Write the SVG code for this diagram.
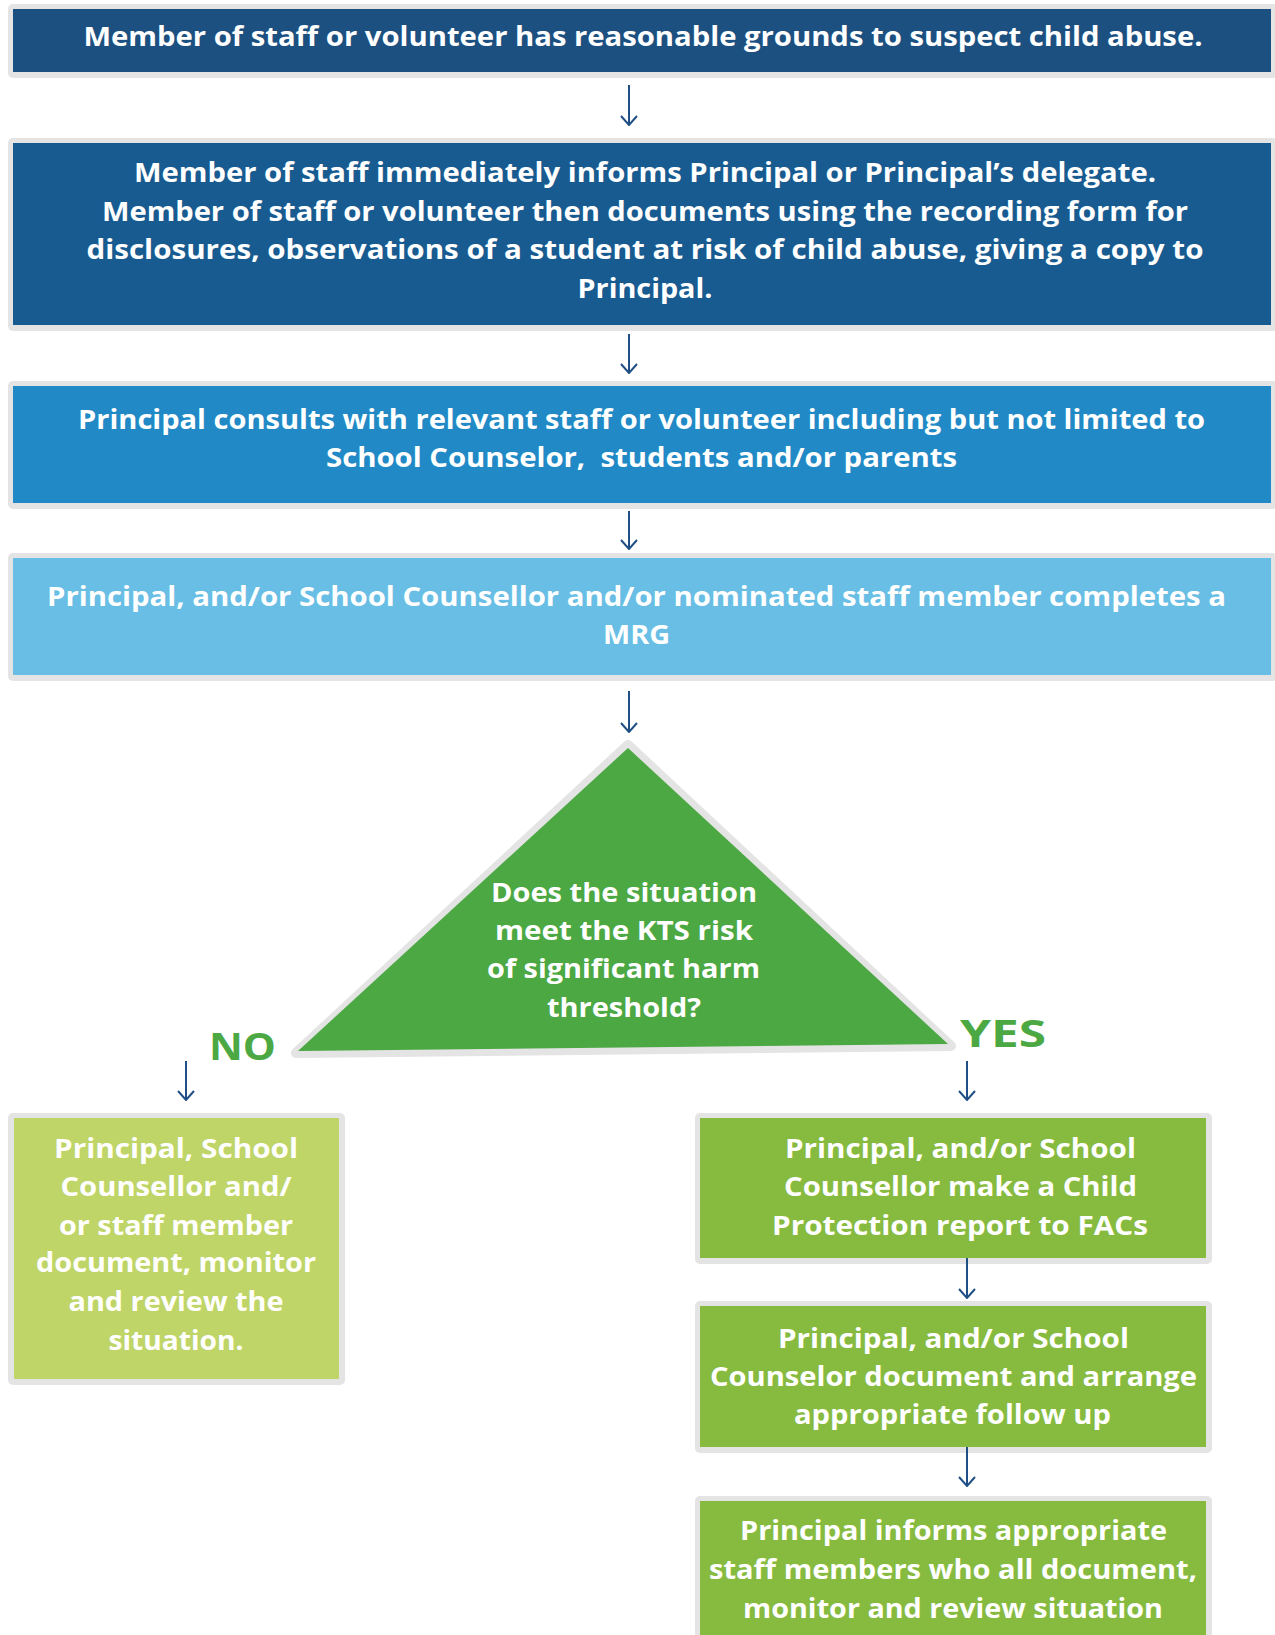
<svg xmlns="http://www.w3.org/2000/svg" width="1275" height="1635" viewBox="0 0 1275 1635">
  <defs>
    <style>
      .frame { fill: #e4e4e4; }
      .t { font-family: "Open Sans", "Liberation Sans", sans-serif; font-weight: 700; font-size: 26px; fill: #ffffff; text-anchor: middle; }
      .tri { font-family: "Open Sans", "Liberation Sans", sans-serif; font-weight: 700; font-size: 27px; fill: #ffffff; text-anchor: middle; }
      .lbl { font-family: "Open Sans", "Liberation Sans", sans-serif; font-weight: 700; font-size: 38px; fill: #4ba843; }
      .conn { stroke: #1f4f84; stroke-width: 2; fill: none; marker-end: url(#head); }
    </style>
    <marker id="head" viewBox="0 0 12 20" refX="11" refY="10" markerWidth="12" markerHeight="20" markerUnits="userSpaceOnUse" orient="auto">
      <path d="M2,2 L11,10 L2,18" fill="none" stroke="#1f4f84" stroke-width="2"/>
    </marker>
  </defs>

  <rect width="1275" height="1635" fill="#ffffff"/>

  <!-- step 1 -->
  <g id="suspect">
    <rect class="frame" x="8" y="4" width="1270" height="74" rx="5"/>
    <rect x="13" y="9" width="1258" height="63" fill="#1c5081"/>
    <text class="t" x="643" y="46" textLength="1119" lengthAdjust="spacingAndGlyphs">Member of staff or volunteer has reasonable grounds to suspect child abuse.</text>
  </g>

  <!-- step 2 -->
  <g id="inform">
    <rect class="frame" x="8" y="138" width="1270" height="193" rx="5"/>
    <rect x="13" y="143" width="1258" height="182" fill="#185b91"/>
    <text class="t" x="645" y="182" textLength="1022" lengthAdjust="spacingAndGlyphs">Member of staff immediately informs Principal or Principal’s delegate.</text>
    <text class="t" x="645" y="221" textLength="1086" lengthAdjust="spacingAndGlyphs">Member of staff or volunteer then documents using the recording form for</text>
    <text class="t" x="645" y="259" textLength="1117" lengthAdjust="spacingAndGlyphs">disclosures, observations of a student at risk of child abuse, giving a copy to</text>
    <text class="t" x="645" y="298" textLength="135" lengthAdjust="spacingAndGlyphs">Principal.</text>
  </g>

  <!-- step 3 -->
  <g id="consult">
    <rect class="frame" x="8" y="381" width="1270" height="128" rx="5"/>
    <rect x="13" y="386" width="1258" height="117" fill="#218ac6"/>
    <text class="t" x="641.5" y="429" textLength="1127" lengthAdjust="spacingAndGlyphs">Principal consults with relevant staff or volunteer including but not limited to</text>
    <text class="t" x="641.5" y="467" textLength="631" lengthAdjust="spacingAndGlyphs" xml:space="preserve">School Counselor,  students and/or parents</text>
  </g>

  <!-- step 4 -->
  <g id="mrg">
    <rect class="frame" x="8" y="553" width="1270" height="128" rx="5"/>
    <rect x="13" y="558" width="1258" height="117" fill="#68bee4"/>
    <text class="t" x="636.5" y="606" textLength="1179" lengthAdjust="spacingAndGlyphs">Principal, and/or School Counsellor and/or nominated staff member completes a</text>
    <text class="t" x="636.5" y="644" textLength="67" lengthAdjust="spacingAndGlyphs">MRG</text>
  </g>

  <!-- decision -->
  <g id="decision">
    <polygon points="628,745 296,1053 951,1046" fill="#e4e4e4" stroke="#e4e4e4" stroke-width="10" stroke-linejoin="round"/>
    <polygon points="628,748 298,1051 948,1044" fill="#4ba843"/>
    <text class="tri" x="624" y="902" textLength="266" lengthAdjust="spacingAndGlyphs">Does the situation</text>
    <text class="tri" x="624" y="940" textLength="258" lengthAdjust="spacingAndGlyphs">meet the KTS risk</text>
    <text class="tri" x="623.5" y="978" textLength="273" lengthAdjust="spacingAndGlyphs">of significant harm</text>
    <text class="tri" x="624" y="1017" textLength="154" lengthAdjust="spacingAndGlyphs">threshold?</text>
  </g>

  <!-- branch labels -->
  <g id="labels">
    <text class="lbl" x="209" y="1060" textLength="67" lengthAdjust="spacingAndGlyphs">NO</text>
    <text class="lbl" x="960" y="1047" textLength="86" lengthAdjust="spacingAndGlyphs">YES</text>
  </g>

  <!-- no branch -->
  <g id="monitor">
    <rect class="frame" x="8" y="1113" width="337" height="272" rx="5"/>
    <rect x="14" y="1118" width="325" height="261" fill="#bfd567"/>
    <text class="t" x="176" y="1158" textLength="244" lengthAdjust="spacingAndGlyphs">Principal, School</text>
    <text class="t" x="176" y="1196" textLength="231" lengthAdjust="spacingAndGlyphs">Counsellor and/</text>
    <text class="t" x="176" y="1235" textLength="234" lengthAdjust="spacingAndGlyphs">or staff member</text>
    <text class="t" x="176" y="1272" textLength="280" lengthAdjust="spacingAndGlyphs">document, monitor</text>
    <text class="t" x="176" y="1311" textLength="215" lengthAdjust="spacingAndGlyphs">and review the</text>
    <text class="t" x="176" y="1350" textLength="135" lengthAdjust="spacingAndGlyphs">situation.</text>
  </g>

  <!-- yes branch -->
  <g id="report">
    <rect class="frame" x="695" y="1113" width="517" height="151" rx="5"/>
    <rect x="700" y="1118" width="506" height="140" fill="#87bb40"/>
    <text class="t" x="960.5" y="1158" textLength="351" lengthAdjust="spacingAndGlyphs">Principal, and/or School</text>
    <text class="t" x="960.5" y="1196" textLength="353" lengthAdjust="spacingAndGlyphs">Counsellor make a Child</text>
    <text class="t" x="960" y="1235" textLength="376" lengthAdjust="spacingAndGlyphs">Protection report to FACs</text>
  </g>

  <g id="follow-up">
    <rect class="frame" x="695" y="1301" width="517" height="152" rx="5"/>
    <rect x="700" y="1306" width="506" height="141" fill="#87bb40"/>
    <text class="t" x="953.5" y="1348" textLength="351" lengthAdjust="spacingAndGlyphs">Principal, and/or School</text>
    <text class="t" x="953.5" y="1386" textLength="487" lengthAdjust="spacingAndGlyphs">Counselor document and arrange</text>
    <text class="t" x="952.5" y="1424" textLength="317" lengthAdjust="spacingAndGlyphs">appropriate follow up</text>
  </g>

  <g id="inform-staff">
    <rect class="frame" x="695" y="1496" width="517" height="150" rx="5"/>
    <rect x="700" y="1501" width="506" height="140" fill="#87bb40"/>
    <text class="t" x="953.5" y="1540" textLength="427" lengthAdjust="spacingAndGlyphs">Principal informs appropriate</text>
    <text class="t" x="953" y="1579" textLength="488" lengthAdjust="spacingAndGlyphs">staff members who all document,</text>
    <text class="t" x="953" y="1618" textLength="420" lengthAdjust="spacingAndGlyphs">monitor and review situation</text>
  </g>

  <!-- connectors, drawn over the box frames -->
  <g id="connectors">
    <line class="conn" x1="629" y1="85" x2="629" y2="125"/>
    <line class="conn" x1="629" y1="334" x2="629" y2="373"/>
    <line class="conn" x1="629" y1="511" x2="629" y2="549"/>
    <line class="conn" x1="629" y1="691" x2="629" y2="732"/>
    <line class="conn" x1="186" y1="1061" x2="186" y2="1100"/>
    <line class="conn" x1="967" y1="1061" x2="967" y2="1100"/>
    <line class="conn" x1="967" y1="1258" x2="967" y2="1298"/>
    <line class="conn" x1="967" y1="1447" x2="967" y2="1486"/>
  </g>
</svg>
